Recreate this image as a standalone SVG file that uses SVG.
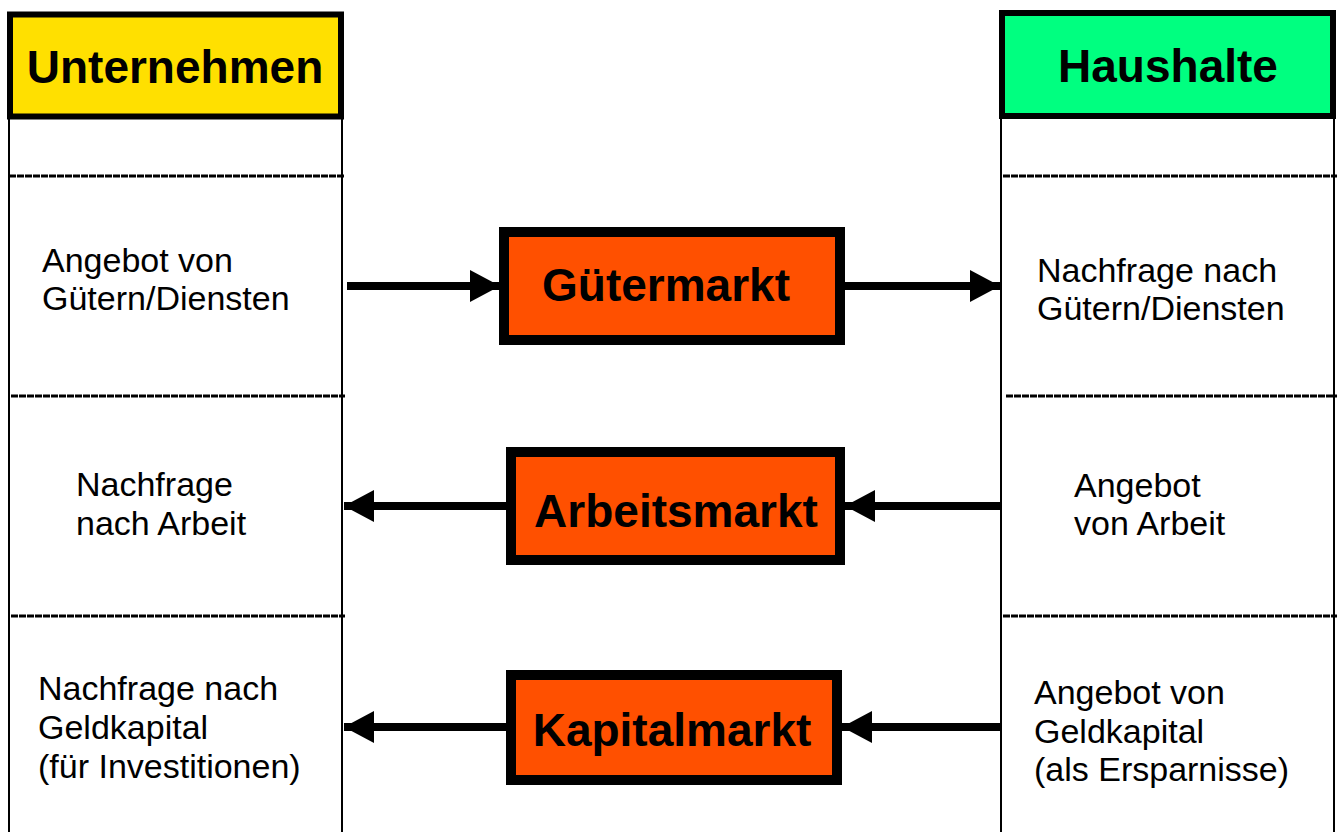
<svg xmlns="http://www.w3.org/2000/svg" width="1337" height="832" viewBox="0 0 1337 832">
<style>
.hdr{stroke:#000;stroke-width:6}
.col{stroke:#000;stroke-width:2;fill:none}
.dot{stroke:#000;stroke-width:3;stroke-dasharray:7 1;fill:none}
.mkt{fill:#FF5000;stroke:#000;stroke-width:10}
.ht{font-family:"Liberation Sans",Arial,sans-serif;font-weight:bold;font-size:46px;fill:#000}
.t{font-family:"Liberation Sans",Arial,sans-serif;font-size:34px;fill:#000}
.ln{stroke:#000;stroke-width:8;fill:none}
</style>
<defs>
<marker id="ah" markerUnits="userSpaceOnUse" markerWidth="30" markerHeight="34" refX="30" refY="16" orient="auto">
<path d="M0,0 L30,16 L0,32 Z" fill="#000"/>
</marker>
</defs>
<rect width="1337" height="832" fill="#fff"/>
<g id="unternehmen">
<line class="col" x1="9" y1="116" x2="9" y2="832"/>
<line class="col" x1="342" y1="116" x2="342" y2="832"/>
<line class="dot" x1="9" y1="176" x2="345" y2="176"/>
<line class="dot" x1="11" y1="396" x2="345" y2="396"/>
<line class="dot" x1="11" y1="616" x2="345" y2="616"/>
<rect class="hdr" x="10" y="14.5" width="331" height="102" fill="#FFE000"/>
<text class="ht" x="175" y="83" text-anchor="middle">Unternehmen</text>
</g>
<g id="haushalte">
<line class="col" x1="1001" y1="116" x2="1001" y2="832"/>
<line class="col" x1="1334" y1="116" x2="1334" y2="832"/>
<line class="dot" x1="1003" y1="176" x2="1337" y2="176"/>
<line class="dot" x1="1006" y1="396" x2="1337" y2="396"/>
<line class="dot" x1="1003" y1="616" x2="1337" y2="616"/>
<rect class="hdr" x="1002" y="13" width="331" height="103" fill="#00FF80"/>
<text class="ht" x="1168" y="82" text-anchor="middle">Haushalte</text>
</g>
<g id="texte-links">
<text class="t" x="42" y="272">Angebot von</text>
<text class="t" x="42" y="310">Gütern/Diensten</text>
<text class="t" x="76" y="496">Nachfrage</text>
<text class="t" x="76" y="535">nach Arbeit</text>
<text class="t" x="38" y="700">Nachfrage nach</text>
<text class="t" x="38" y="739">Geldkapital</text>
<text class="t" x="38" y="778">(für Investitionen)</text>
</g>
<g id="texte-rechts">
<text class="t" x="1037" y="282">Nachfrage nach</text>
<text class="t" x="1037" y="320">Gütern/Diensten</text>
<text class="t" x="1074" y="497">Angebot</text>
<text class="t" x="1074" y="535">von Arbeit</text>
<text class="t" x="1034" y="704">Angebot von</text>
<text class="t" x="1034" y="743">Geldkapital</text>
<text class="t" x="1034" y="781">(als Ersparnisse)</text>
</g>
<g id="guetermarkt">
<rect class="mkt" x="504" y="232" width="336" height="108"/>
<text class="ht" x="666" y="301" text-anchor="middle">Gütermarkt</text>
</g>
<g id="arbeitsmarkt">
<rect class="mkt" x="511" y="452" width="329" height="108"/>
<text class="ht" x="676" y="527" text-anchor="middle">Arbeitsmarkt</text>
</g>
<g id="kapitalmarkt">
<rect class="mkt" x="511" y="675" width="326" height="105"/>
<text class="ht" x="672" y="746" text-anchor="middle">Kapitalmarkt</text>
</g>
<g id="connectors">
<line class="ln" x1="347" y1="286" x2="500" y2="286" marker-end="url(#ah)"/>
<line class="ln" x1="845" y1="286" x2="1000" y2="286" marker-end="url(#ah)"/>
<line class="ln" x1="506" y1="506" x2="344" y2="506" marker-end="url(#ah)"/>
<line class="ln" x1="1001" y1="506" x2="845" y2="506" marker-end="url(#ah)"/>
<line class="ln" x1="506" y1="727" x2="344" y2="727" marker-end="url(#ah)"/>
<line class="ln" x1="1001" y1="727" x2="842" y2="727" marker-end="url(#ah)"/>
</g>
</svg>
